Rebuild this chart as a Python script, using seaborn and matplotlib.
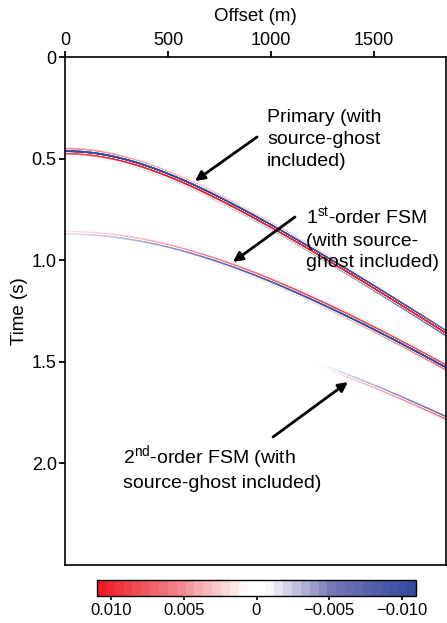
import numpy as np
import matplotlib
matplotlib.use("Agg")
import matplotlib.pyplot as plt
from matplotlib.colors import LinearSegmentedColormap
import seaborn as sns

# ---------------- data ----------------
offset_ticks = [0, 500, 1000, 1500]
time_ticks = [0.0, 0.5, 1.0, 1.5, 2.0]
time_tick_labels = ["0", "0.5", "1.0", "1.5", "2.0"]
cbar_ticks = [0.010, 0.005, 0.0, -0.005, -0.010]
cbar_tick_labels = ["0.010", "0.005", "0", "\u22120.005", "\u22120.010"]

offset_max = 1850.0      # m
time_max = 2.5           # s
color_limit = 0.011

# events: zero-offset time (s), moveout velocity (m/s)
event_t0 = [0.465, 0.865, 1.27]
event_vel = [1450.0, 1470.0, 1490.0]
# amplitude / phase control points along offset, per event
primary_off = [0, 600, 1200, 1850]
primary_amp = [0.016, 0.018, 0.018, 0.017]
primary_phase = [-160, -110, -80, -15]
fsm1_off = [0, 600, 1200, 1850]
fsm1_amp = [0.002, 0.006, 0.012, 0.018]
fsm1_phase = [90, 95, 110, 170]
fsm2_off = [1180, 1400, 1850]
fsm2_amp = [0.0, 0.0035, 0.008]
fsm2_phase = [-90, -90, -90]

wavelet_freq = 35.0      # Hz
wavelet_width = 0.0145   # s

# ---------------- build the section (one cell per output pixel) ----------------
nx, nt = 381, 508
dx, dt = offset_max / nx, time_max / nt
offsets = (np.arange(nx) + 0.5) * dx
times = (np.arange(nt) + 0.5) * dt
T = times[:, None]
section = np.zeros((nt, nx))
controls = [(primary_off, primary_amp, primary_phase),
            (fsm1_off, fsm1_amp, fsm1_phase),
            (fsm2_off, fsm2_amp, fsm2_phase)]
for t0, v, (ko, ka, kp) in zip(event_t0, event_vel, controls):
    tx = np.sqrt(t0 ** 2 + (offsets / v) ** 2)
    amp = np.interp(offsets, ko, ka, left=0.0)
    ph = np.deg2rad(np.interp(offsets, ko, kp))
    tau = T - tx[None, :]
    section += amp[None, :] * np.exp(-(tau / wavelet_width) ** 2) * \
        np.cos(2 * np.pi * wavelet_freq * tau + ph[None, :])

# ---------------- styling ----------------
sns.set_theme(style="white")
plt.rcParams["font.family"] = ["Liberation Sans", "DejaVu Sans"]
plt.rcParams["mathtext.fontset"] = "custom"
plt.rcParams["mathtext.rm"] = "Liberation Sans"
plt.rcParams["mathtext.it"] = "Liberation Sans"
for k in ["text.color", "axes.labelcolor", "xtick.color", "ytick.color"]:
    plt.rcParams[k] = "black"

cmap = LinearSegmentedColormap.from_list(
    "rb", [(0.0, (0.21, 0.29, 0.62)), (0.25, (0.45, 0.45, 0.72)),
           (0.47, (1, 1, 1)), (0.53, (1, 1, 1)),
           (0.75, (0.95, 0.52, 0.55)), (1.0, (0.93, 0.11, 0.14))], N=36)

fig = plt.figure(figsize=(4.47, 6.23), dpi=100)
ax = fig.add_axes([65 / 447, 1 - 565 / 623, 381 / 447, 508 / 623])
cax = fig.add_axes([97 / 447, 1 - 596 / 623, 319 / 447, 16 / 623])

sns.heatmap(section, ax=ax, cmap=cmap, vmin=-color_limit, vmax=color_limit,
            cbar=True, cbar_ax=cax, cbar_kws={"orientation": "horizontal"},
            xticklabels=False, yticklabels=False, rasterized=True)

for s in ax.spines.values():
    s.set_visible(True)
    s.set_color("black")
    s.set_linewidth(1.2)

ax.xaxis.tick_top()
ax.xaxis.set_label_position("top")
ax.set_xticks([o / dx for o in offset_ticks])
ax.set_xticklabels([str(o) for o in offset_ticks])
ax.set_yticks([t / dt for t in time_ticks])
ax.set_yticklabels(time_tick_labels)
ax.tick_params(axis="both", which="major", direction="out", length=4, width=1.3,
               colors="black", labelsize=13, pad=2,
               top=True, bottom=False, left=True, right=False,
               labeltop=True, labelbottom=False)
ax.set_xlabel("Offset (m)", fontsize=13.5, labelpad=8)
ax.set_ylabel("Time (s)", fontsize=13.5, labelpad=3)

# colorbar
cax.invert_xaxis()
cax.set_xticks(cbar_ticks)
cax.set_xticklabels(cbar_tick_labels)
cax.tick_params(axis="x", direction="out", length=3, width=1.2, colors="black",
                labelsize=12, pad=2, bottom=True)
cb = ax.collections[0].colorbar
cb.outline.set_edgecolor("black")
cb.outline.set_linewidth(1.0)

# annotations (figure pixel coordinates -> figure fraction)
def fp(x, y):
    return (x / 447, 1 - y / 623)

arrow = dict(arrowstyle="-|>", color="black", lw=2.0, mutation_scale=14,
             shrinkA=0, shrinkB=0)
fs = 14
ls = 1.38
fig.text(*fp(267, 109), "Primary (with\nsource-ghost\nincluded)", fontsize=fs,
         va="top", ha="left", linespacing=ls)
ax.annotate("", xy=fp(195, 181), xycoords="figure fraction",
            xytext=fp(257, 137), textcoords="figure fraction", arrowprops=arrow)

fig.text(*fp(306, 206), "1$^{\\rm st}$-order FSM\n(with source-\nghost included)",
         fontsize=fs, va="top", ha="left", linespacing=ls)
ax.annotate("", xy=fp(233, 262), xycoords="figure fraction",
            xytext=fp(295, 217), textcoords="figure fraction", arrowprops=arrow)

fig.text(*fp(123, 443), "2$^{\\rm nd}$-order FSM (with\nsource-ghost included)",
         fontsize=fs, va="top", ha="left", linespacing=1.3)
ax.annotate("", xy=fp(348, 382), xycoords="figure fraction",
            xytext=fp(273, 437), textcoords="figure fraction", arrowprops=arrow)

fig.savefig("out.png", dpi=100)
